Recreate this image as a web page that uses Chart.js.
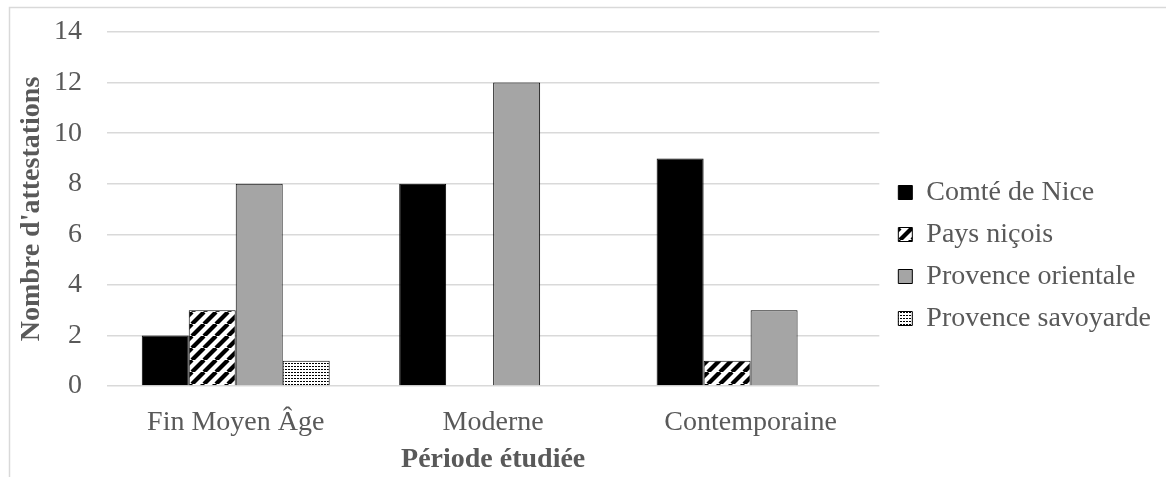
<!DOCTYPE html>
<html>
<head>
<meta charset="utf-8">
<script src="https://cdn.jsdelivr.net/npm/chart.js@4.4.1/dist/chart.umd.min.js"></script>
<style>
  body { margin: 0; background: #fff; }
  #wrap { position: relative; width: 1166px; height: 477px; }
</style>
</head>
<body>
<div id="wrap"><canvas id="attChart"></canvas></div>
<script>
const periods = ['Fin Moyen Âge', 'Moderne', 'Contemporaine'];
const comteNice = [2, 8, 9];
const paysNicois = [3, 0, 1];
const provenceOrientale = [8, 12, 3];
const provenceSavoyarde = [1, 0, 0];
const yTicks = [0, 2, 4, 6, 8, 10, 12, 14];

const serif = '"Liberation Serif", "Times New Roman", serif';
const textColor = '#595959';

// diagonal hatch, upward stripes
function hatchPattern() {
    const c = document.createElement('canvas');
    c.width = 12; c.height = 12;
    const g = c.getContext('2d');
    g.fillStyle = '#fff';
    g.fillRect(0, 0, 12, 12);
    g.strokeStyle = '#000';
    g.lineWidth = 4.2;
    [-12, 0, 12].forEach(k => {
        g.beginPath();
        g.moveTo(k, 12);
        g.lineTo(k + 12, 0);
        g.stroke();
    });
    return g.createPattern(c, 'repeat');
}

// small dotted grid
function dotPattern() {
    const c = document.createElement('canvas');
    c.width = 3; c.height = 3;
    const g = c.getContext('2d');
    g.fillStyle = '#fff';
    g.fillRect(0, 0, 3, 3);
    g.fillStyle = '#000';
    g.fillRect(0, 0, 2, 1);
    return g.createPattern(c, 'repeat');
}

const framePlugin = {
    id: 'frame',
    afterLayout(chart) {
        // nudge legend a little to the right
        chart.legend.left += 5;
        chart.legend.top += 1;
        chart.legend.bottom += 1;
    },
    afterDraw(chart) {
        const ctx = chart.ctx;
        ctx.save();
        ctx.strokeStyle = '#d9d9d9';
        ctx.lineWidth = 1.5;
        ctx.beginPath();
        ctx.moveTo(9.5, 477);
        ctx.lineTo(9.5, 7.5);
        ctx.lineTo(1166, 7.5);
        ctx.stroke();
        ctx.restore();
    }
};

const common = { borderColor: '#000', borderWidth: 1, categoryPercentage: 0.73, barPercentage: 1 };

new Chart(document.getElementById('attChart'), {
    type: 'bar',
    data: {
        labels: periods,
        datasets: [
            Object.assign({ label: 'Comté de Nice', data: comteNice, backgroundColor: '#000' }, common),
            Object.assign({ label: 'Pays niçois', data: paysNicois, backgroundColor: hatchPattern() }, common),
            Object.assign({ label: 'Provence orientale', data: provenceOrientale, backgroundColor: '#a5a5a5' }, common),
            Object.assign({ label: 'Provence savoyarde', data: provenceSavoyarde, backgroundColor: dotPattern() }, common)
        ]
    },
    options: {
        responsive: true,
        maintainAspectRatio: false,
        animation: false,
        layout: { padding: { left: 10, top: 32, right: 10, bottom: 0 } },
        plugins: {
            legend: {
                position: 'right',
                labels: {
                    boxWidth: 14,
                    boxHeight: 14,
                    padding: 14,
                    color: textColor,
                    font: { family: serif, size: 28 }
                }
            },
            tooltip: { enabled: false }
        },
        scales: {
            x: {
                grid: { display: false, drawTicks: true, tickLength: 20 },
                border: { display: false },
                ticks: { color: textColor, padding: 0, font: { family: serif, size: 28 } },
                title: {
                    display: true,
                    text: 'Période étudiée',
                    color: textColor,
                    padding: { top: 3.8, bottom: 0 },
                    font: { family: serif, size: 28, weight: 'bold' }
                }
            },
            y: {
                min: 0,
                max: 14,
                afterBuildTicks: axis => { axis.ticks = yTicks.map(v => ({ value: v })); },
                grid: { color: '#d9d9d9', lineWidth: 1.5, drawTicks: true, tickLength: 25, tickColor: 'rgba(0,0,0,0)' },
                border: { display: false },
                ticks: { color: textColor, padding: 0, font: { family: serif, size: 28 } },
                title: {
                    display: true,
                    text: "Nombre d'attestations",
                    color: textColor,
                    padding: { top: 5, bottom: 5.4 },
                    font: { family: serif, size: 28, weight: 'bold' }
                }
            }
        }
    },
    plugins: [framePlugin]
});
</script>
</body>
</html>
